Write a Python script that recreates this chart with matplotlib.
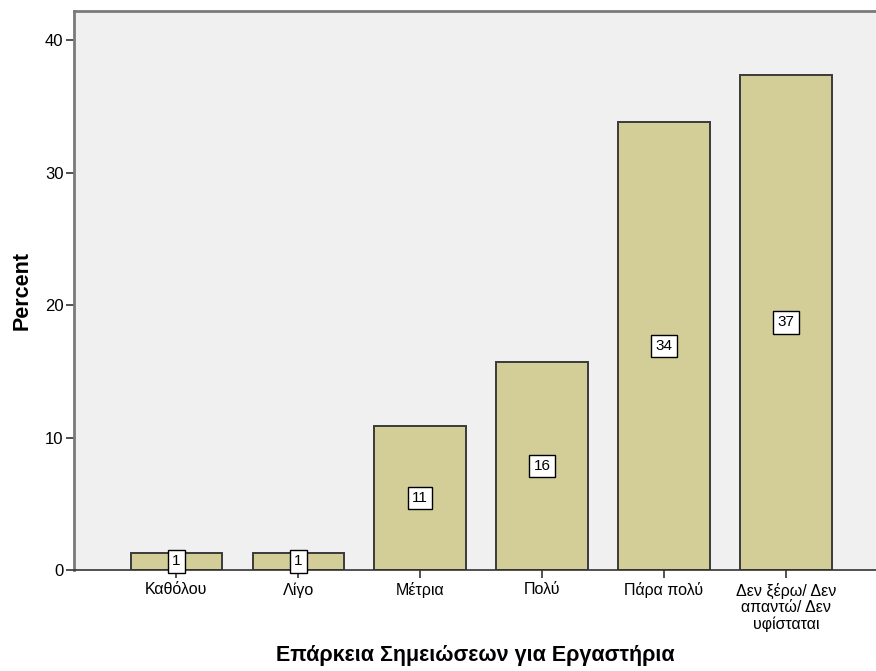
import matplotlib
matplotlib.use("Agg")
import matplotlib.pyplot as plt
import numpy as np

plt.rcParams["font.family"] = ["Liberation Sans", "DejaVu Sans"]

# ---------------------------------------------------------------------------
# Data
# ---------------------------------------------------------------------------
categories = [
    "Καθόλου",
    "Λίγο",
    "Μέτρια",
    "Πολύ",
    "Πάρα πολύ",
    "Δεν ξέρω/ Δεν\nαπαντώ/ Δεν\nυφίσταται",
]
percents = [1.3, 1.3, 10.9, 15.7, 33.8, 37.4]
y_ticks = [0, 10, 20, 30, 40]

# ---------------------------------------------------------------------------
# Figure
# ---------------------------------------------------------------------------
fig = plt.figure(figsize=(8.76, 6.71), dpi=100)
fig.patch.set_facecolor("white")
ax = fig.add_axes([74 / 876, 101 / 671, 802 / 876, 559 / 671])
ax.set_facecolor("#F0F0F0")

x = np.arange(len(categories))
ax.bar(x, percents, width=0.75, color="#D3CE98", edgecolor="#3A3A3A",
       linewidth=1.4, zorder=2)

# value boxes in the middle of each bar
for xi, val in zip(x, percents):
    ax.text(xi, val / 2, f"{val:.0f}", ha="center", va="center",
            fontsize=11, color="black", zorder=4,
            bbox=dict(boxstyle="square,pad=0.28", facecolor="white",
                      edgecolor="black", linewidth=1.0))

ax.set_xlim(-0.84, 5.74)
ax.set_ylim(0, 42.2)
ax.set_xticks(x)
ax.set_xticklabels(categories, fontsize=11.5, linespacing=1.1)
ax.set_yticks(y_ticks)
ax.tick_params(axis="both", length=6, width=1.2,
               color="#333333", direction="out")
ax.tick_params(axis="x", pad=3)
ax.tick_params(axis="y", labelsize=12, pad=1.5)

for side in ("left", "top"):
    ax.spines[side].set_color("#7A7A7A")
    ax.spines[side].set_linewidth(2.0)
ax.spines["bottom"].set_color("#333333")
ax.spines["bottom"].set_linewidth(1.2)
ax.spines["right"].set_visible(False)

ax.set_ylabel("Percent", fontsize=15.5, fontweight="bold", labelpad=9)
ax.set_xlabel("Επάρκεια Σημειώσεων για Εργαστήρια", fontsize=15.5,
              fontweight="bold", labelpad=10)

fig.savefig("out.png", dpi=100)
